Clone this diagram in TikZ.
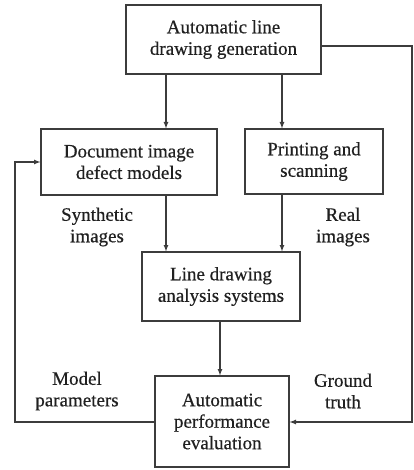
\documentclass[tikz,border=0pt]{standalone}
\usepackage{fontspec}
\setmainfont[FakeBold=0.5]{Liberation Serif}
\usepackage{tikz}
\usetikzlibrary{arrows}
\usetikzlibrary{calc}
\usetikzlibrary{positioning}
\definecolor{inkline}{HTML}{3C3C3C}
\definecolor{inktext}{HTML}{202020}
\tikzset{
  blockbox/.style={draw=inkline, line width=1.2pt, align=center, inner sep=0pt,
    text=inktext, font=\fontsize{19}{21.5}\selectfont},
  tag/.style={align=center, text=inktext, font=\fontsize{19}{21.5}\selectfont},
  flow/.style={draw=inkline, line width=1.2pt, -latex}
}
\begin{document}
\begin{tikzpicture}[x=1pt, y=-1pt] % flowchart, pixel coordinates

      \useasboundingbox (0,0) rectangle (413,470);

      \node [blockbox, minimum width=195pt, minimum height=69pt] (gen) at (223.5,39.5) {Automatic line\\drawing generation};
      \node [blockbox, minimum width=176pt, minimum height=66pt] (defect) at (129,162) {Document image\\defect models};
      \node [blockbox, minimum width=138pt, minimum height=65pt] (scan) at (314,161.5) {Printing and\\scanning};
      \node [blockbox, minimum width=158pt, minimum height=69pt] (analysis) at (221,286.5) {Line drawing\\analysis systems};
      \node [blockbox, minimum width=134pt, minimum height=91pt] (eval) at (222,421.5) {Automatic\\performance\\evaluation};

      \coordinate (colL) at (166,0);
      \coordinate (colR) at (282,0);
      \coordinate (colM) at (220,0);
      \coordinate (gt) at (412,422);
      \coordinate (mp) at (15,422);

      \draw [flow] (gen.south -| colL) -- (defect.north -| colL);
      \draw [flow] (gen.south -| colR) -- (scan.north -| colR);
      \draw [flow] (defect.south -| colL) -- (analysis.north -| colL);
      \draw [flow] (scan.south -| colR) -- (analysis.north -| colR);
      \draw [flow] (analysis.south -| colM) -- (eval.north -| colM);
      \draw [flow] ([yshift=-6.5pt]gen.east) -| (gt) -- (eval.east |- gt);
      \draw [flow] (eval.west |- mp) -- (mp) |- (defect.west);

      \node [tag] (synth) at (97,227) {Synthetic\\images};
      \node [tag] (real) at (343,227) {Real\\images};
      \node [tag] (model) at (77,391) {Model\\parameters};
      \node [tag] (truth) at (343,391) {Ground\\truth};

    \end{tikzpicture}
\end{document}
